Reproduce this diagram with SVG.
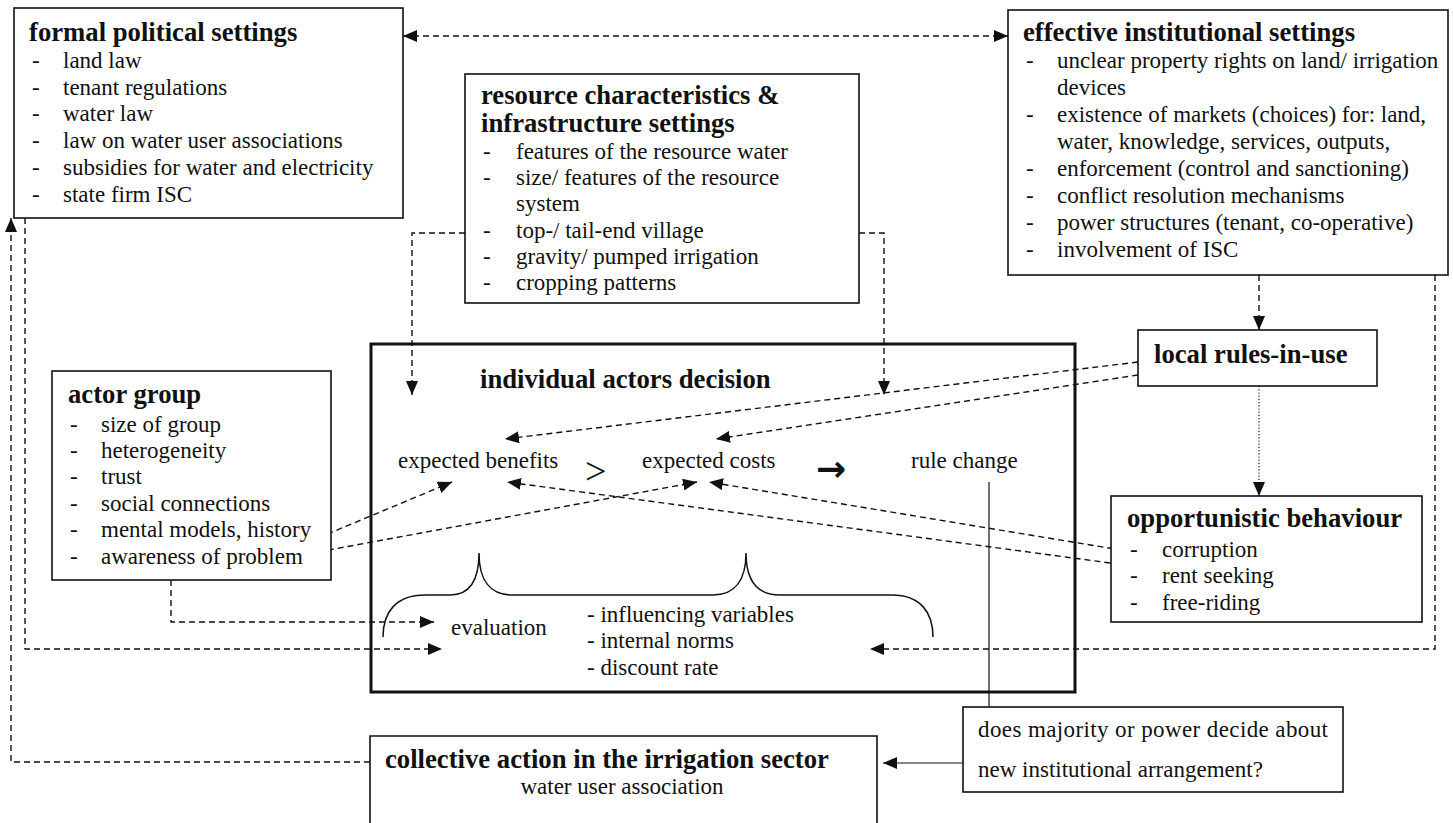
<svg xmlns="http://www.w3.org/2000/svg" width="1453" height="823" viewBox="0 0 1453 823">
<defs>
<style>
text{font-family:"Liberation Serif","Times New Roman",serif;fill:#111}
.t{font-size:26.7px;font-weight:bold}
.i{font-size:23px}
.box{fill:#fff;stroke:#111;stroke-width:1.6}
.thick{fill:none;stroke:#111;stroke-width:3}
.dash{fill:none;stroke:#111;stroke-width:1.4;stroke-dasharray:6,4}
.dot{fill:none;stroke:#111;stroke-width:1.2;stroke-dasharray:1.2,2}
.solid{fill:none;stroke:#111;stroke-width:1.2}
</style>
<marker id="ah" markerUnits="userSpaceOnUse" markerWidth="14" markerHeight="12" refX="14" refY="6" orient="auto-start-reverse" viewBox="0 0 14 12">
<path d="M0,0 L14,6 L0,12 z" fill="#111"/>
</marker>
</defs>
<rect width="1453" height="823" fill="#fff"/>

<g id="connectors">
<path class="dash" d="M403,36 H1008" marker-start="url(#ah)" marker-end="url(#ah)"/>
<path class="dash" d="M465,233 H412 V395" marker-end="url(#ah)"/>
<path class="dash" d="M859,233 H884 V395" marker-end="url(#ah)"/>
<path class="dash" d="M1259,275 V330" marker-end="url(#ah)"/>
<path class="dot" d="M1259,386 V496" marker-end="url(#ah)"/>
<path class="dash" d="M1138,362 L505,439" marker-end="url(#ah)"/>
<path class="dash" d="M1138,375 L716,439" marker-end="url(#ah)"/>
<path class="dash" d="M1133,552 L709,482" marker-end="url(#ah)"/>
<path class="dash" d="M1140,567 L507,482" marker-end="url(#ah)"/>
<path class="dash" d="M318,538 L452,482" marker-end="url(#ah)"/>
<path class="dash" d="M318,552 L697,482" marker-end="url(#ah)"/>
<path class="dash" d="M171,580 V622 H434" marker-end="url(#ah)"/>
<path class="dash" d="M25,218 V649 H442" marker-end="url(#ah)"/>
<path class="dash" d="M370,762 H11 V218" marker-end="url(#ah)"/>
<path class="dash" d="M1435,275 V649 H870" marker-end="url(#ah)"/>
<path class="solid" d="M989,482 V707"/>
<path class="solid" d="M963,763 H883" marker-end="url(#ah)"/>
</g>

<g id="formal-political-settings">
<rect class="box" x="14" y="8" width="389" height="210"/>
<text class="t" x="29" y="41">formal political settings</text>
<text class="i" x="32" y="68">-</text><text class="i" x="63" y="68">land law</text>
<text class="i" x="32" y="95">-</text><text class="i" x="63" y="95">tenant regulations</text>
<text class="i" x="32" y="121">-</text><text class="i" x="63" y="121">water law</text>
<text class="i" x="32" y="148">-</text><text class="i" x="63" y="148">law on water user associations</text>
<text class="i" x="32" y="175">-</text><text class="i" x="63" y="175">subsidies for water and electricity</text>
<text class="i" x="32" y="202">-</text><text class="i" x="63" y="202">state firm ISC</text>
</g>

<g id="resource-characteristics">
<rect class="box" x="465" y="74" width="394" height="229"/>
<text class="t" x="481" y="104">resource characteristics &amp;</text>
<text class="t" x="481" y="132">infrastructure settings</text>
<text class="i" x="483" y="159">-</text><text class="i" x="516" y="159">features of the resource water</text>
<text class="i" x="483" y="185">-</text><text class="i" x="516" y="185">size/ features of the resource</text>
<text class="i" x="516" y="211">system</text>
<text class="i" x="483" y="238">-</text><text class="i" x="516" y="238">top-/ tail-end village</text>
<text class="i" x="483" y="264">-</text><text class="i" x="516" y="264">gravity/ pumped irrigation</text>
<text class="i" x="483" y="290">-</text><text class="i" x="516" y="290">cropping patterns</text>
</g>

<g id="effective-institutional-settings">
<rect class="box" x="1008" y="10" width="440" height="265"/>
<text class="t" x="1023" y="41">effective institutional settings</text>
<text class="i" x="1026" y="68">-</text><text class="i" x="1057" y="68">unclear property rights on land/ irrigation</text>
<text class="i" x="1057" y="95">devices</text>
<text class="i" x="1026" y="122">-</text><text class="i" x="1057" y="122">existence of markets (choices) for: land,</text>
<text class="i" x="1057" y="149">water, knowledge, services, outputs,</text>
<text class="i" x="1026" y="176">-</text><text class="i" x="1057" y="176">enforcement (control and sanctioning)</text>
<text class="i" x="1026" y="203">-</text><text class="i" x="1057" y="203">conflict resolution mechanisms</text>
<text class="i" x="1026" y="230">-</text><text class="i" x="1057" y="230">power structures (tenant, co-operative)</text>
<text class="i" x="1026" y="257">-</text><text class="i" x="1057" y="257">involvement of ISC</text>
</g>

<g id="local-rules-in-use">
<rect class="box" x="1138" y="330" width="239" height="56"/>
<text class="t" x="1154" y="363">local rules-in-use</text>
</g>

<g id="opportunistic-behaviour">
<rect class="box" x="1111" y="496" width="311" height="126"/>
<text class="t" x="1127" y="527">opportunistic behaviour</text>
<text class="i" x="1130" y="557">-</text><text class="i" x="1162" y="557">corruption</text>
<text class="i" x="1130" y="583">-</text><text class="i" x="1162" y="583">rent seeking</text>
<text class="i" x="1130" y="610">-</text><text class="i" x="1162" y="610">free-riding</text>
</g>

<g id="actor-group">
<rect class="box" x="52" y="371" width="279" height="209"/>
<text class="t" x="68" y="403">actor group</text>
<text class="i" x="70" y="432">-</text><text class="i" x="101" y="432">size of group</text>
<text class="i" x="70" y="458">-</text><text class="i" x="101" y="458">heterogeneity</text>
<text class="i" x="70" y="484">-</text><text class="i" x="101" y="484">trust</text>
<text class="i" x="70" y="511">-</text><text class="i" x="101" y="511">social connections</text>
<text class="i" x="70" y="537">-</text><text class="i" x="101" y="537">mental models, history</text>
<text class="i" x="70" y="564">-</text><text class="i" x="101" y="564">awareness of problem</text>
</g>

<g id="individual-actors-decision">
<rect class="thick" x="371" y="344" width="704" height="348"/>
<text class="t" x="480" y="388">individual actors decision</text>
<text class="i" x="398" y="468">expected benefits</text>
<text class="i" x="585" y="484" style="font-size:38px">&gt;</text>
<text class="i" x="642" y="468">expected costs</text>
<text x="816" y="481" style="font-family:'DejaVu Sans',sans-serif;font-size:36px;font-weight:bold">→</text>
<text class="i" x="911" y="468">rule change</text>
<path class="solid" style="stroke-width:1.5" d="M383,637 C383,612 396,595 425,595 L450,595 C470,595 479,580 479,553 C479,580 490,595 512,595 L713,595 C735,595 746,580 746,553 C746,580 757,595 780,595 L892,595 C920,595 933,612 933,637"/>
<text class="i" x="451" y="635">evaluation</text>
<text class="i" x="587" y="622">- influencing variables</text>
<text class="i" x="587" y="648">- internal norms</text>
<text class="i" x="587" y="675">- discount rate</text>
</g>

<g id="majority-decision">
<rect class="box" x="963" y="707" width="380" height="85"/>
<text class="i" x="978" y="737" textLength="350">does majority or power decide about</text>
<text class="i" x="978" y="777">new institutional arrangement?</text>
</g>

<g id="collective-action">
<path class="box" d="M370,830 V736 H877 V830"/>
<text class="t" x="385" y="768">collective action in the irrigation sector</text>
<text class="i" x="622" y="794" text-anchor="middle">water user association</text>
</g>
</svg>
